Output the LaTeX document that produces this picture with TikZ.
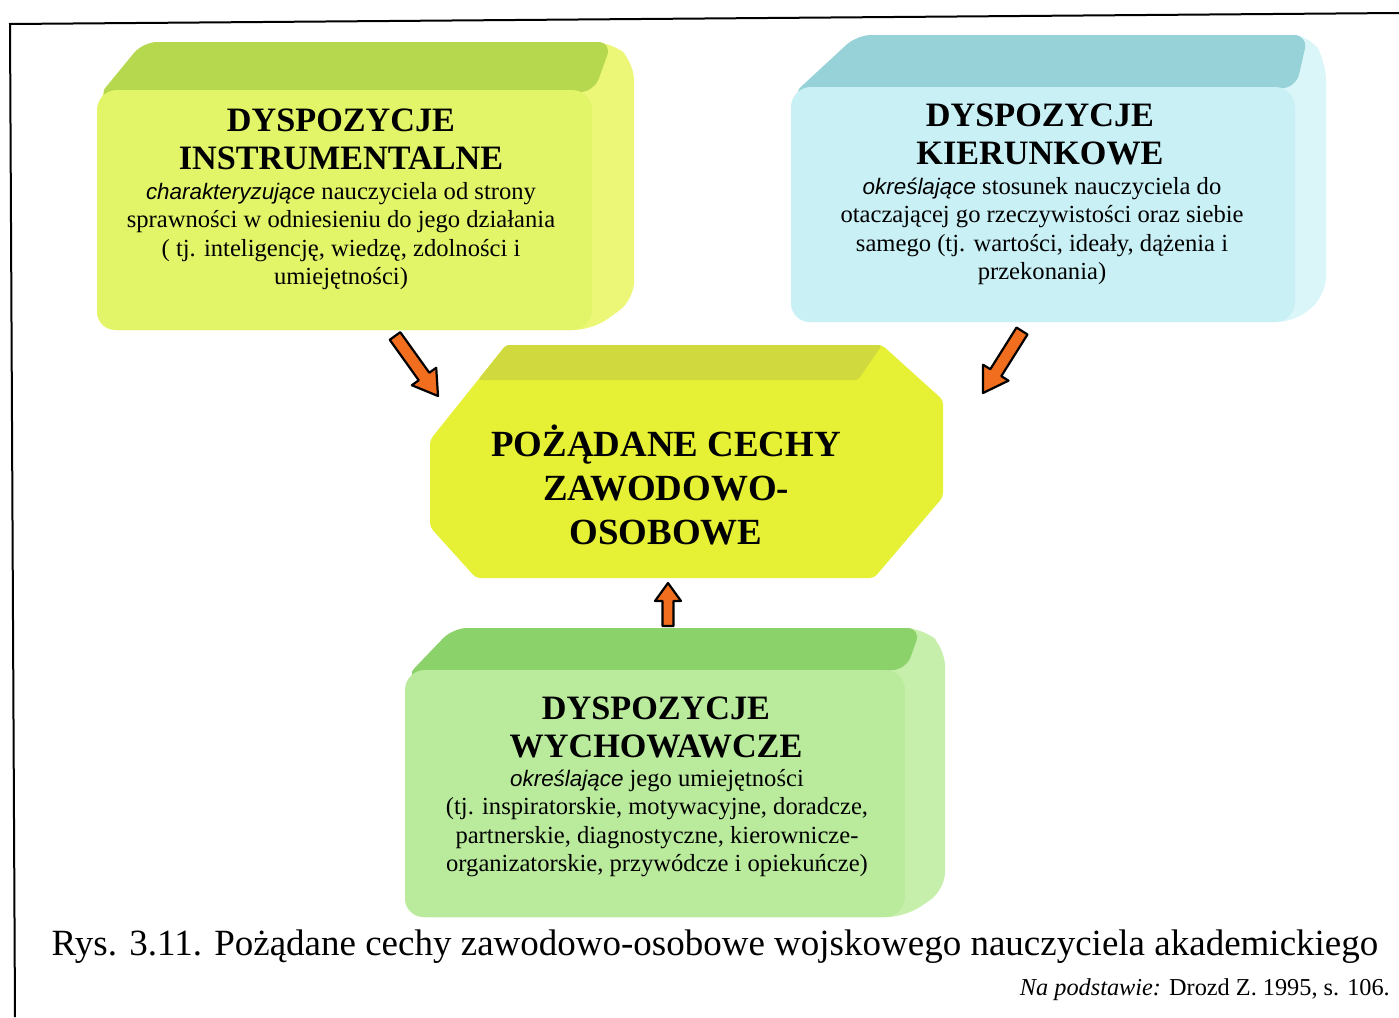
\documentclass[tikz,border=0pt]{standalone}
\usepackage{fontspec}
\setmainfont{Liberation Serif}
\newfontfamily\sansfam{Liberation Sans}
\usetikzlibrary{calc}
\definecolor{tlfront}{RGB}{226,245,104}
\definecolor{tlband}{RGB}{182,216,78}
\definecolor{tlside}{RGB}{236,247,120}
\definecolor{trfront}{RGB}{200,240,245}
\definecolor{trband}{RGB}{150,210,215}
\definecolor{trside}{RGB}{218,246,249}
\definecolor{cfront}{RGB}{230,240,52}
\definecolor{cband}{RGB}{208,218,62}
\definecolor{bfront}{RGB}{186,235,156}
\definecolor{bband}{RGB}{140,210,106}
\definecolor{bside}{RGB}{198,239,172}
\definecolor{arroworange}{RGB}{240,110,30}
\newcommand\itw[1]{{\sansfam\itshape\fontsize{22.4}{28.5}\selectfont #1}}
% #1 tail, #2 tip, #3 shaft half width, #4 head half width, #5 head length
\newcommand\blockarrow[5]{%
  \path ($(#2)!#5!(#1)$) coordinate (hb);
  \filldraw[barrow] ($(#1)!#3!90:(#2)$) -- ($(hb)!#3!90:(#2)$) -- ($(hb)!#4!90:(#2)$) -- (#2)
    -- ($(hb)!#4!-90:(#2)$) -- ($(hb)!#3!-90:(#2)$) -- ($(#1)!#3!-90:(#2)$) -- cycle;
}
\begin{document}
\begin{tikzpicture}[x=1pt,y=-1pt,
  face/.style={rectangle, rounded corners=20pt, inner sep=0pt},
  titletext/.style={align=center, inner sep=0pt, font=\fontsize{34.2}{38}\selectfont\bfseries},
  bodytext/.style={align=center, inner sep=0pt, font=\fontsize{24.6}{28.5}\selectfont},
  centertext/.style={align=center, inner sep=0pt, font=\fontsize{36.9}{44}\selectfont\bfseries},
  barrow/.style={fill=arroworange, draw=black, line width=2.2pt, line join=round}]
\useasboundingbox (0,0) rectangle (1399,1017);
\fill[white] (0,0) rectangle (1399,1017);
% frame
\draw[line width=2pt] (1399,13) -- (10,24) -- (15,1017);

% ---------- top-left box ----------
\fill[tlside, rounded corners=18pt] (97,100) -- (143,42) -- (612,42) -- (634,62) -- (634,300) -- (592,330) -- (97,330) -- cycle;
\fill[tlband, rounded corners=14pt] (97,98) -- (143,42) -- (612,42) -- (594,92) -- cycle;
\node[face, fill=tlfront, minimum width=495pt, minimum height=240pt] (tl) at (344.5,210) {};
\node[titletext] (tlt) at (341,139.5) {DYSPOZYCJE\\INSTRUMENTALNE};
\node[bodytext] (tlb) at (341,236) {\itw{charakteryzujące} nauczyciela od strony\\sprawności w odniesieniu do jego działania\\( tj. inteligencję, wiedzę, zdolności i\\umiejętności)};

% ---------- top-right box ----------
\fill[trside, rounded corners=18pt] (791,100) -- (857,35) -- (1310,35) -- (1326,62) -- (1326,295) -- (1295,322) -- (791,322) -- cycle;
\fill[trband, rounded corners=14pt] (791,96) -- (857,35) -- (1308,35) -- (1296,88) -- cycle;
\node[face, fill=trfront, minimum width=504pt, minimum height=235pt] (tr) at (1043,204.5) {};
\node[titletext] (trt) at (1040,134) {DYSPOZYCJE\\KIERUNKOWE};
\node[bodytext] (trb) at (1042,231) {\itw{określające} stosunek nauczyciela do\\otaczającej go rzeczywistości oraz siebie\\samego (tj. wartości, ideały, dążenia i\\przekonania)};

% ---------- centre block ----------
\fill[cfront, rounded corners=4pt] (506,345) -- (882,345) -- (943,400) -- (943,497) -- (874,578) -- (476,578) -- (430,527) -- (430,440) -- cycle;
\fill[cband, rounded corners=3pt] (506,345) -- (882,345) -- (858,380) -- (478,380) -- cycle;
\node[centertext] (mid) at (666,485) {POŻĄDANE CECHY\\ZAWODOWO-\\OSOBOWE};

% ---------- bottom box ----------
\fill[bside, rounded corners=18pt] (405,682) -- (453,628) -- (923,628) -- (945,648) -- (945,890) -- (905,917) -- (405,917) -- cycle;
\fill[bband, rounded corners=14pt] (405,678) -- (453,628) -- (921,628) -- (906,670) -- cycle;
\node[face, fill=bfront, minimum width=500pt, minimum height=247pt] (bt) at (655,793.5) {};
\node[titletext] (btt) at (656,727) {DYSPOZYCJE\\WYCHOWAWCZE};
\node[bodytext] (btb) at (657,823) {\itw{określające} jego umiejętności\\(tj. inspiratorskie, motywacyjne, doradcze,\\partnerskie, diagnostyczne, kierownicze-\\organizatorskie, przywódcze i opiekuńcze)};

% ---------- arrows ----------
\coordinate (a1s) at (395,336);
\coordinate (a1e) at (438,396);
\coordinate (a2s) at (1022,331);
\coordinate (a2e) at (983,393);
\coordinate (a3s) at (668,626);
\coordinate (a3e) at (668,583);
\blockarrow{a1s}{a1e}{6.5pt}{15pt}{24pt}
\blockarrow{a2s}{a2e}{6.5pt}{15pt}{24pt}
\blockarrow{a3s}{a3e}{5.5pt}{13pt}{18pt}

% ---------- caption ----------
\node[inner sep=0pt, font=\fontsize{37}{40}\selectfont] (cap) at (715,947) {Rys. 3.11. Pożądane cechy zawodowo-osobowe wojskowego nauczyciela akademickiego};
\node[inner sep=0pt, anchor=east, font=\fontsize{24.3}{28}\selectfont] (src) at (1390,990) {\itshape Na podstawie:\upshape{} Drozd Z. 1995, s. 106.};
\end{tikzpicture}
\end{document}
